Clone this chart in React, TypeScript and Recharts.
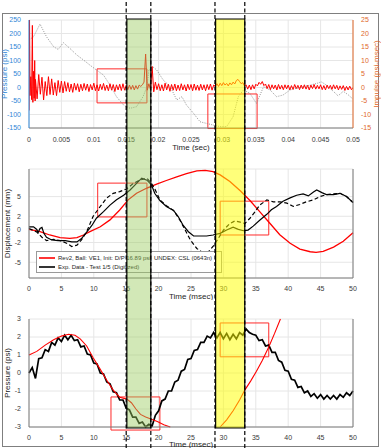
import {
  CartesianGrid,
  ComposedChart,
  Label,
  Legend,
  Line,
  ReferenceArea,
  ReferenceLine,
  XAxis,
  YAxis,
} from "recharts";

const FONT = "'Liberation Sans', Arial, Helvetica, sans-serif";
const W = 381;
const H = 448;

// ---- panel 1: blast pressure (psi) + impulse (psi-msec) vs time (sec)
const SEC_TICKS = [0, 0.005, 0.01, 0.015, 0.02, 0.025, 0.03, 0.035, 0.04, 0.045, 0.05];
const PSI_TICKS = [-150, -100, -50, 0, 50, 100, 150, 200, 250];
const IMPULSE_TICKS = [-15, -10, -5, 0, 5, 10, 15, 20, 25];

// first millisecond, spikes read point by point
const PRESSURE_HEAD: [number, number][] = [
  [0, -85], [0.00008, 250], [0.00016, -30], [0.00028, 40], [0.0004, -45],
  [0.00052, 230], [0.0006, -55], [0.0007, 60], [0.0008, -40], [0.00088, 100], [0.00095, -50],
];
// then sampled every 0.25 ms from 1 ms on
const PRESSURE_T0 = 0.001;
const PRESSURE_DT = 0.00025;
const PRESSURE_SAMPLES = [
  30, -42, 48, -25, 38, -46, 22, -30, 40,
  -26, 32, -28, 18, -30, 26, -18, 24,
  -20, 22, -14, 18, -16, 13, -18, 16, -10, 14, -16, 12,
  -12, 15, -10, 13, -15, 11, -9, 16, -12, 10, -13, 12, -8, 15, -11, 9, -12, 14, -10, 11,
  -15, 10, -9, 12, -11, 14, -10, 8,
  -8, 9, -7, 8, -9, 7, -6, 9, 4, 10, 20,
  124,
  -10, 14, -8, 78, -16, 20, -8,
  14, -12, 10, -13, 16, -9, 12, -14, 11, -10, 13, -12, 9, -11, 14, -9, 10, -13, 12, -8,
  11, -12, 13, -10, 9, -11, 12, -9, 10, -12, 11, -8, 13, -10, 9, 5,
  14, 4, 16, 7, 18, 9, 15, 6, 17, 10, 20, 13, 26, 30, 22, 14, 18, 6,
  10, -6, 9, -8, 10, -5, 12, 6, 19, 12, 22, 7, 13, -4, 11, -8, 10, -5, 9, -9,
  11, -6, 8, -8, 10, -5, 9, -9, 7, -7, 11, -4, 8, -8, 9, -5, 10, -6, 8, -9,
  9, -4, 11, -6, 8, -5, 10, -8, 7, -9, 9, -4, 8, -7, 10, -5, 8, -9, 6, -7,
  7, -11, 4, -9, 5, -8, 0,
];
const IMPULSE: [number, number][] = [
  [0, 17.6], [0.0007, 18.8], [0.0017, 23.5], [0.0027, 18.8], [0.0038, 15.1], [0.0045, 14.1],
  [0.0053, 16.6], [0.0063, 14.5], [0.0074, 12.0], [0.0084, 10.2], [0.0094, 8.3], [0.0104, 6.5],
  [0.0115, 4.6], [0.0125, 0.9], [0.0135, -3.4], [0.0146, -6.5], [0.0156, -7.7], [0.0166, -7.1],
  [0.0176, -3.4], [0.0182, 0.3], [0.0185, 6.5], [0.0191, 7.7], [0.0197, 6.5], [0.0207, 2.8],
  [0.0218, 0.3], [0.0228, -4.6], [0.0236, -3.4], [0.0243, -6.5], [0.0254, -9.6], [0.0264, -12.7],
  [0.0274, -13.3], [0.0284, -13.9], [0.0295, -14.5], [0.0305, -14.5], [0.0315, -10.8], [0.0323, -3.4],
  [0.0331, -0.9], [0.0341, -2.2], [0.0351, -5.9], [0.0362, 0.3], [0.0372, -0.9], [0.0382, -3.4],
  [0.0392, -2.8], [0.0403, -0.9], [0.0413, -0.3], [0.0423, 0.3], [0.0434, 0.9], [0.0444, 1.5],
  [0.0451, 2.1], [0.0459, 0.9], [0.047, -1.5], [0.0477, -3.1], [0.0485, -1.4], [0.0493, -2.8], [0.05, -4.3],
];

// ---- panel 2: displacement (mm) vs time (msec)
const MS_TICKS = [0, 5, 10, 15, 20, 25, 30, 35, 40, 45, 50];
const DISP_TICKS = [-5, -2, 0, 2, 5];
const DISP_SIM: [number, number][] = [
  [0, 0], [1.7, -0.35], [3.2, -0.85], [4.8, -1.25], [6.3, -1.35], [7.4, -1.25], [8.4, -0.85],
  [9.4, -0.35], [11.0, 0.4], [12.5, 1.45], [14.0, 2.95], [15.3, 4.5], [16.6, 5.5], [18.2, 6.3],
  [19.7, 6.9], [21.2, 7.45], [22.8, 8.0], [24.3, 8.5], [25.9, 8.9], [27.2, 9.0], [28.4, 8.8],
  [29.5, 8.3], [31.0, 7.3], [32.6, 5.9], [34.1, 4.4], [35.6, 2.7], [37.2, 0.9], [38.7, -0.8],
  [40.3, -2.1], [41.8, -3.0], [43.4, -3.4], [44.3, -3.5], [45.4, -3.35], [47.0, -2.7], [48.5, -1.8], [50, -0.5],
];
const DISP_EXP: [number, number][] = [
  [0, 0.4], [0.7, 0.4], [1.2, 0], [1.4, -0.5], [1.7, 0.15], [2.0, 0.3], [2.3, -0.6], [2.7, -1.2],
  [3.5, -1.6], [4.5, -1.7], [5.6, -1.7], [6.6, -1.9], [7.4, -1.9], [8.1, -1.4], [8.9, -0.4], [9.7, 0.6],
  [10.4, 1.7], [11.5, 2.7], [12.5, 3.7], [13.5, 4.5], [14.6, 5.2], [15.6, 6.0], [16.6, 7.0], [17.4, 7.8],
  [18.2, 7.5], [18.9, 6.8], [19.4, 5.5], [20.2, 4.4], [21.2, 3.5], [22.3, 2.9], [23.0, 2.0], [23.8, 0.6],
  [24.6, -0.35], [25.4, -1.0], [26.4, -1.0], [27.4, -1.0], [28.4, -0.85], [29.5, -0.6], [30.5, -0.1],
  [31.5, 0.35], [32.3, 0], [33.1, -0.2], [33.8, -0.1], [34.6, 0.5], [35.6, 1.4], [36.7, 2.3], [37.4, 3.0],
  [38.2, 3.5], [39.2, 4.3], [40.3, 4.8], [41.3, 5.2], [42.3, 5.4], [43.1, 5.1], [43.9, 5.7], [44.4, 6.0],
  [45.2, 5.6], [45.9, 5.3], [47.0, 5.3], [48.0, 5.5], [49.0, 5.0], [50, 4.1],
];
const DISP_EXP_ALT: [number, number][] = [
  [0, 0.15], [1.2, -0.4], [2.0, -1.2], [2.7, -1.7], [3.8, -1.5], [4.8, -1.7], [5.8, -2.1], [6.6, -2.6],
  [7.4, -2.4], [8.1, -1.6], [8.9, -0.35], [9.9, 2.0], [11.0, 3.5], [12.0, 4.8], [13.0, 5.5], [14.0, 5.75],
  [15.1, 6.2], [16.1, 7.0], [17.1, 7.5], [18.2, 7.8], [18.9, 7.0], [19.4, 6.2], [20.2, 4.5], [21.2, 3.6],
  [22.3, 2.9], [23.3, 1.4], [24.1, -0.1], [24.9, -1.6], [25.9, -2.9], [26.6, -3.4], [27.7, -3.4],
  [28.4, -2.6], [29.2, -1.4], [30.0, -0.1], [31.0, 0.9], [31.8, 1.3], [32.6, 1.1], [33.3, 0.9], [34.1, 1.7],
  [34.9, 2.7], [35.6, 3.7], [36.7, 4.5], [37.7, 4.2], [38.7, 4.2], [39.8, 4.0], [40.8, 3.5], [41.8, 3.8],
  [42.8, 4.2], [43.9, 4.5], [44.9, 5.0], [45.9, 5.3], [47.0, 5.4], [48.0, 5.5], [49.0, 5.0], [50, 4.1],
];
const SIM_NAME = "Rev2, Ball: VE1, Init: D/P 16.89 psi, UNDEX: CSL (0643n)";
const EXP_NAME = "Exp. Data - Test 1/5 (Digitized)";
const LEGEND_ORDER = [SIM_NAME, EXP_NAME];

// ---- panel 3: pressure (psi) vs time (msec)
const P3_TICKS = [-3, -2, -1, 0, 1, 2, 3];
const P3_SIM_A: [number, number][] = [
  [0, 1.0], [1.2, 1.2], [2.5, 1.55], [3.8, 1.85], [5.0, 2.05], [6.1, 2.15], [7.1, 2.1], [7.9, 1.9],
  [8.9, 1.5], [9.9, 0.85], [11.0, 0.2], [12.0, -0.4], [13.0, -0.95], [14.0, -1.35], [15.1, -1.45],
  [15.8, -1.65], [16.5, -2.0], [17.2, -2.3], [18.0, -2.45], [18.8, -2.55], [19.8, -2.7], [20.8, -2.88], [21.8, -3.0],
];
const P3_SIM_B: [number, number][] = [
  [29.5, -3], [30.5, -2.6], [31.5, -2.1], [32.5, -1.5], [33.3, -0.95], [34.2, -0.45], [35.1, 0.1],
  [36.0, 0.7], [37.0, 1.45], [37.9, 2.2], [38.8, 3.0],
];
// measured gauge, every 0.5 ms
const P3_EXP_DT = 0.5;
const P3_EXP = [
  0.0, 0.3, -0.3, 0.8, 0.85, 1.3, 1.2, 1.7, 1.55, 1.95, 1.75, 2.1, 1.85, 2.1, 1.8, 1.85, 1.45, 1.5, 1.05, 1.0,
  0.55, 0.5, 0.0, -0.05, -0.5, -0.6, -1.05, -1.1, -1.5, -1.5, -1.95, -2.05, -2.45, -2.45, -2.8, -2.72, -3.0, -2.85, -2.95, -2.35,
  -2.1, -1.55, -1.45, -1.0, -1.0, -0.5, -0.4, 0.1, 0.2, 0.75, 0.8, 1.25, 1.3, 1.7, 1.7, 2.05, 1.95, 2.25, 1.95, 2.25,
  1.9, 2.2, 1.85, 2.15, 1.9, 2.25, 2.1, 2.45, 2.25, 2.15, 2.1, 1.8, 1.85, 1.5, 1.55, 1.15, 1.15, 0.7, 0.6, 0.15,
  0.1, -0.35, -0.4, -0.8, -0.75, -1.1, -1.0, -1.3, -1.15, -1.4, -1.2, -1.45, -1.25, -1.45, -1.25, -1.45, -1.2, -1.35, -1.1, -1.25,
  -1.0,
];

// ---- annotations (msec unless noted)
const P1_BOXES = [
  { x1: 0.0105, x2: 0.0182, y1: -57, y2: 69 },
  { x1: 0.0276, x2: 0.0352, y1: -152, y2: -24 },
];
const P2_BOXES = [
  { x1: 10.6, x2: 18.2, y1: 1.9, y2: 7.05 },
  { x1: 29.5, x2: 37.0, y1: -0.85, y2: 4.3 },
];
const P3_BOXES = [
  { x1: 12.65, x2: 20.2, y1: -3.17, y2: -1.33 },
  { x1: 29.5, x2: 37.0, y1: 0.9, y2: 2.78 },
];
const BANDS = [
  { x1: 15.1, x2: 18.8, color: "#9ccc5f", opacity: 0.45 },
  { x1: 28.8, x2: 33.3, color: "#ffff00", opacity: 0.52 },
];
const GUIDES = [15.0, 18.8, 28.7, 33.3];

const pairs = (rows: [number, number][]) => rows.map(([t, v]) => ({ t, v }));
const pressureData = [
  ...pairs(PRESSURE_HEAD),
  ...PRESSURE_SAMPLES.map((v, i) => ({ t: PRESSURE_T0 + i * PRESSURE_DT, v })),
];
const p3ExpData = P3_EXP.map((v, i) => ({ t: i * P3_EXP_DT, v }));
const guideData = GUIDES.map((t) => ({ t, v: 0.5 }));

const BLUE = "#2f86d6";
const ORANGE = "#e0682a";
const AXIS = "#7a7a7a";
const TEXT = "#3a3a3a";
const GRID = "#e6e6e6";
const RED = "#ff0000";
const tick = { fontSize: 7, fill: TEXT, fontFamily: FONT };
const labelStyle = { fontSize: 8, fill: "#262626", fontFamily: FONT, textAnchor: "middle" as const };

function DispLegend({ payload }: any) {
  const items = LEGEND_ORDER.map((name) => (payload || []).find((p: any) => p.value === name)).filter(Boolean);
  return (
    <div
      style={{
        background: "#fff",
        border: "1px solid #9a9a9a",
        padding: "1px 2px",
        fontFamily: FONT,
        fontSize: 6,
        color: "#262626",
        boxSizing: "border-box",
        width: 186,
      }}
    >
      {items.map((p: any) => (
        <div key={p.value} style={{ display: "flex", alignItems: "center", height: 9 }}>
          <svg width={16} height={4} style={{ marginRight: 3 }}>
            <line x1={0} y1={2} x2={16} y2={2} stroke={p.color} strokeWidth={1.6} />
          </svg>
          <span style={{ whiteSpace: "nowrap" }}>{p.value}</span>
        </div>
      ))}
    </div>
  );
}

const abs = (top: number) => ({ position: "absolute" as const, left: 0, top });

export default function App() {
  return (
    <div style={{ position: "absolute", left: 0, top: 0, width: W, height: H, background: "#fff", overflow: "hidden", fontFamily: FONT }}>
      <div style={{ position: "absolute", left: 2, top: 13, width: 375, height: 432, border: "1px solid #7f7f7f" }} />

      {/* pressure / impulse */}
      <ComposedChart width={W} height={152} margin={{ top: 20, right: 0, bottom: 0, left: 0 }} style={abs(0)}>
        <CartesianGrid stroke={GRID} yAxisId="p" />
        <XAxis dataKey="t" type="number" domain={[0, 0.05]} ticks={SEC_TICKS} interval={0} height={24}
          tick={tick} tickLine={false} tickMargin={3} stroke={AXIS} allowDataOverflow>
          <Label value="Time (sec)" position="insideBottom" offset={2} style={labelStyle} />
        </XAxis>
        <XAxis xAxisId="top" orientation="top" type="number" domain={[0, 0.05]} height={0} tick={false} tickLine={false} stroke={AXIS} />
        <YAxis yAxisId="p" type="number" domain={[-150, 250]} ticks={PSI_TICKS} interval={0} width={29}
          tick={{ ...tick, fill: BLUE }} tickLine={false} tickMargin={2} stroke={BLUE}>
          <Label value="Pressure (psi)" angle={-90} position="insideLeft" offset={4} style={{ ...labelStyle, fill: BLUE }} />
        </YAxis>
        <YAxis yAxisId="i" orientation="right" type="number" domain={[-15, 25]} ticks={IMPULSE_TICKS} interval={0} width={28}
          tick={{ ...tick, fill: ORANGE }} tickLine={false} tickMargin={2} stroke={ORANGE}>
          <Label value="Impulse (psi-msec)" angle={-90} position="insideRight" offset={5} style={{ ...labelStyle, fill: ORANGE }} />
        </YAxis>
        {P1_BOXES.map((b, i) => (
          <ReferenceArea key={i} yAxisId="p" {...b} fill="none" stroke="#ff2a2a" strokeWidth={1} ifOverflow="visible" />
        ))}
        <Line yAxisId="i" data={pairs(IMPULSE)} dataKey="v" stroke="#8a8a8a" strokeWidth={0.9} strokeDasharray="1 1.3" dot={false} isAnimationActive={false} />
        <Line yAxisId="p" data={pressureData} dataKey="v" stroke={RED} strokeWidth={1} dot={false} isAnimationActive={false} />
      </ComposedChart>

      {/* displacement */}
      <ComposedChart width={W} height={150} margin={{ top: 19, right: 0, bottom: 0, left: 0 }} style={abs(150)}>
        <CartesianGrid stroke={GRID} />
        <XAxis dataKey="t" type="number" domain={[0, 50]} ticks={MS_TICKS} interval={0} height={22}
          tick={tick} tickLine={false} tickMargin={2} stroke={AXIS}>
          <Label value="Time (msec)" position="insideBottom" offset={1} style={labelStyle} />
        </XAxis>
        <XAxis xAxisId="top" orientation="top" type="number" domain={[0, 50]} height={0} tick={false} tickLine={false} stroke={AXIS} />
        <YAxis type="number" domain={[-7.4, 9.2]} ticks={DISP_TICKS} interval={0} width={29}
          tick={tick} tickLine={false} tickMargin={2} stroke={AXIS}>
          <Label value="Displacement (mm)" angle={-90} position="insideLeft" offset={7} style={labelStyle} />
        </YAxis>
        <YAxis yAxisId="r" orientation="right" type="number" domain={[-7.4, 9.2]} width={28} tick={false} tickLine={false} stroke={AXIS} />
        {P2_BOXES.map((b, i) => (
          <ReferenceArea key={i} {...b} fill="none" stroke="#ff2a2a" strokeWidth={1} ifOverflow="visible" />
        ))}
        <Line data={pairs(DISP_SIM)} dataKey="v" name={SIM_NAME} stroke={RED} strokeWidth={1.3} dot={false} isAnimationActive={false} />
        <Line data={pairs(DISP_EXP_ALT)} dataKey="v" legendType="none" stroke="#000" strokeWidth={1.2} strokeDasharray="4 2.5" dot={false} isAnimationActive={false} />
        <Line data={pairs(DISP_EXP)} dataKey="v" name={EXP_NAME} stroke="#000" strokeWidth={1.2} dot={false} isAnimationActive={false} />
        <Legend layout="vertical" align="center" verticalAlign="middle" content={DispLegend}
          wrapperStyle={{ left: 36, top: 101, width: 186, height: 21 }} />
      </ComposedChart>

      {/* pressure at gauge */}
      <ComposedChart width={W} height={148} margin={{ top: 19, right: 0, bottom: 0, left: 0 }} style={abs(300)}>
        <CartesianGrid stroke={GRID} />
        <XAxis dataKey="t" type="number" domain={[0, 50]} ticks={MS_TICKS} interval={0} height={21}
          tick={tick} tickLine={false} tickMargin={2} stroke={AXIS}>
          <Label value="Time (msec)" position="insideBottom" offset={1} style={labelStyle} />
        </XAxis>
        <XAxis xAxisId="top" orientation="top" type="number" domain={[0, 50]} height={0} tick={false} tickLine={false} stroke={AXIS} />
        <YAxis type="number" domain={[-3, 3]} ticks={P3_TICKS} interval={0} width={29}
          tick={tick} tickLine={false} tickMargin={2} stroke={AXIS}>
          <Label value="Pressure (psi)" angle={-90} position="insideLeft" offset={7} style={labelStyle} />
        </YAxis>
        <YAxis yAxisId="r" orientation="right" type="number" domain={[-3, 3]} width={28} tick={false} tickLine={false} stroke={AXIS} />
        {P3_BOXES.map((b, i) => (
          <ReferenceArea key={i} {...b} fill="none" stroke="#ff2a2a" strokeWidth={1} ifOverflow="visible" />
        ))}
        <Line data={p3ExpData} dataKey="v" stroke="#000" strokeWidth={1.7} dot={false} isAnimationActive={false} />
        <Line data={pairs(P3_SIM_A)} dataKey="v" stroke={RED} strokeWidth={1.1} dot={false} isAnimationActive={false} />
        <Line data={pairs(P3_SIM_B)} dataKey="v" stroke={RED} strokeWidth={1.1} dot={false} isAnimationActive={false} />
      </ComposedChart>

      {/* highlighted time windows across all three panels */}
      <ComposedChart width={W} height={H} data={guideData}
        margin={{ top: 19, right: 28, bottom: 20, left: 29 }} style={{ ...abs(0), pointerEvents: "none" }}>
        <XAxis dataKey="t" type="number" domain={[0, 50]} hide />
        <YAxis type="number" domain={[0, 1]} hide />
        <Line dataKey="v" stroke="none" dot={false} legendType="none" isAnimationActive={false} />
        {BANDS.map((b) => (
          <ReferenceArea key={b.x1} x1={b.x1} x2={b.x2} y1={0} y2={1} fill={b.color} fillOpacity={b.opacity}
            stroke="#000" strokeWidth={1.2} ifOverflow="visible" />
        ))}
      </ComposedChart>
      <ComposedChart width={W} height={H} data={guideData}
        margin={{ top: 0, right: 28, bottom: 0, left: 29 }} style={{ ...abs(0), pointerEvents: "none" }}>
        <XAxis dataKey="t" type="number" domain={[0, 50]} hide />
        <YAxis type="number" domain={[0, 1]} hide />
        <Line dataKey="v" stroke="none" dot={false} legendType="none" isAnimationActive={false} />
        {GUIDES.map((t) => (
          <ReferenceLine key={t} x={t} stroke="#000" strokeWidth={1.2} strokeDasharray="4 2.5" ifOverflow="visible" />
        ))}
      </ComposedChart>
    </div>
  );
}
